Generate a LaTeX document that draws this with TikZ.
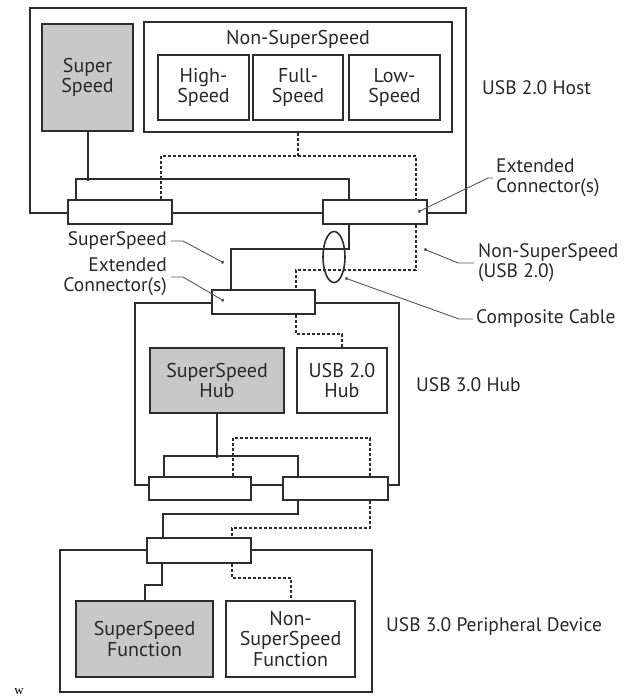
\documentclass[tikz,border=0pt]{standalone}
\usepackage{fontspec}
\setmainfont{PT Sans}
\newfontfamily\wfont{Liberation Serif}
\usetikzlibrary{arrows.meta,shapes.geometric,positioning,backgrounds}
\definecolor{USBLine}{RGB}{45,45,45}
\definecolor{USBGray}{RGB}{200,200,200}
\definecolor{USBText}{RGB}{40,40,40}

\begin{document}
\begin{tikzpicture}[x=1pt,y=-1pt,
    frame/.style={draw=USBLine,line width=2pt,inner sep=0pt},
    box/.style={frame,align=center,text=USBText,
                font=\fontsize{20}{20.5}\selectfont},
    gbox/.style={box,fill=USBGray},
    conn/.style={frame,fill=white,minimum height=24pt},
    wire/.style={USBLine,line width=2pt},
    usb2/.style={USBLine,line width=2.6pt,dash pattern=on 2.6pt off 2.4pt},
    lead/.style={USBLine!80,line width=0.9pt,-{Circle[length=3.2pt]}},
    lbl/.style={font=\fontsize{19.5}{20}\selectfont,text=USBText,inner sep=0pt}
  ]
  \useasboundingbox (0,0) rectangle (624,700);
  % host
  \node[frame,minimum width=436pt,minimum height=205pt] (host) at (248,110.5) {};
  \node[gbox,minimum width=91pt,minimum height=107pt] (ssH) at (87.5,77.5) {Super\\Speed};
  \node[frame,minimum width=308pt,minimum height=110pt] (nss) at (298,77) {};
  \node[box,draw=none] (nssT) at (298,39) {Non-SuperSpeed};
  \node[box,minimum width=91pt,minimum height=65pt] (hs) at (203.5,87.5) {High-\\Speed};
  \node[box,minimum width=90pt,minimum height=65pt] (fs) at (298,87.5) {Full-\\Speed};
  \node[box,minimum width=91pt,minimum height=65pt] (ls) at (394.5,87.5) {Low-\\Speed};
  \node[conn,minimum width=104pt] (hcL) at (120,212) {};
  \node[conn,minimum width=104pt] (hcR) at (375,212) {};
  % hub
  \node[frame,minimum width=264pt,minimum height=182pt] (hub) at (267,394) {};
  \node[conn,minimum width=103pt] (ubc) at (263.5,302) {};
  \node[gbox,minimum width=134pt,minimum height=65pt] (ssHub) at (217,380.5) {SuperSpeed\\Hub};
  \node[box,minimum width=90pt,minimum height=65pt] (u2Hub) at (342,380.5) {USB 2.0\\Hub};
  \node[conn,minimum width=102pt,minimum height=23pt] (hbL) at (200,488.5) {};
  \node[conn,minimum width=105pt,minimum height=23pt] (hbR) at (335.5,488.5) {};
  % device
  \node[frame,minimum width=312pt,minimum height=142pt] (dev) at (216,621) {};
  \node[conn,minimum width=104pt,minimum height=25pt] (dc) at (199,550.5) {};
  \node[gbox,minimum width=137pt,minimum height=76pt] (ssFn) at (144.5,639) {SuperSpeed\\Function};
  \node[box,minimum width=129pt,minimum height=76pt] (nssFn) at (290.5,639) {Non-\\SuperSpeed\\Function};
  \node[ellipse,draw=USBLine,line width=1.6pt,minimum width=22pt,minimum height=51pt] (cab) at (334,257) {};

  \begin{scope}[on background layer]
    \draw[wire] (ssH.south) -- ++(0,49);
    \draw[wire] ([xshift=9pt]hcL.north west) -- ++(0,-20) -| ([xshift=27pt]hcR.north west);
    \draw[usb2] (nss.south) -- ++(0,25);
    \draw[usb2] ([xshift=94pt]hcL.north west) -- ++(0,-43) -| ([xshift=94pt]hcR.north west);
    \draw[wire] ([xshift=27pt]hcR.south west) -- ++(0,24) -| ([xshift=20pt]ubc.north west);
    \draw[usb2] ([xshift=94pt]hcR.south west) -- ++(0,45) -| ([xshift=85pt]ubc.north west);
    \draw[usb2] ([xshift=85pt]ubc.south west) -- ++(0,19) -| (u2Hub.north);
    \draw[wire] (ssHub.south) -- ++(0,44);
    \draw[wire] ([xshift=16pt]hbL.north west) -- ++(0,-20) -| ([xshift=16pt]hbR.north west);
    \draw[usb2] ([xshift=85pt]hbL.north west) -- ++(0,-38) -| ([xshift=88pt]hbR.north west);
    \draw[wire] ([xshift=16pt]hbR.south west) -- ++(0,13) -| ([xshift=17pt]dc.north west);
    \draw[usb2] ([xshift=88pt]hbR.south west) -- ++(0,27) -| ([xshift=86pt]dc.north west);
    \draw[wire] ([xshift=16pt]dc.south west) -- ++(0,21) -| ([xshift=70pt]ssFn.north west);
    \draw[usb2] ([xshift=86pt]dc.south west) -- ++(0,14) -| ([xshift=66pt]nssFn.north west);
  \end{scope}

  % labels
  \node[lbl,anchor=west] (lHost) at (482,88) {USB 2.0 Host};
  \node[lbl,anchor=west,align=left] (lExtR) at (496,178) {Extended\\Connector(s)};
  \node[lbl,anchor=east] (lSS) at (167,241) {SuperSpeed};
  \node[lbl,anchor=east,align=right] (lExtL) at (167,277) {Extended\\Connector(s)};
  \node[lbl,anchor=west,align=left] (lNSS) at (478,263) {Non-SuperSpeed\\(USB 2.0)};
  \node[lbl,anchor=west] (lCab) at (476,319) {Composite Cable};
  \node[lbl,anchor=west] (lHub) at (416,385) {USB 3.0 Hub};
  \node[lbl,anchor=west] (lDev) at (386,627) {USB 3.0 Peripheral Device};
  \node[font=\wfont\fontsize{13}{13}\selectfont,inner sep=0pt] (w) at (19,692) {w};

  \coordinate (pExtR) at (418,212);
  \coordinate (pSS) at (224,263);
  \coordinate (pExtL) at (224,301);
  \coordinate (pNSS) at (424,249);
  \coordinate (pCab) at (345,278);
  \draw[lead] ([xshift=-3pt]lExtR.west) -- ++(-5,0) -- (pExtR);
  \draw[lead] ([xshift=4pt]lSS.east) -- ++(12,0) -- (pSS);
  \draw[lead] ([xshift=4pt]lExtL.east) -- ++(12,0) -- (pExtL);
  \draw[lead] ([xshift=-4pt]lNSS.west) -- ++(-16,0) -- (pNSS);
  \draw[lead] ([xshift=-3pt]lCab.west) -- ++(-14,0) -- (pCab);
\end{tikzpicture}
\end{document}
